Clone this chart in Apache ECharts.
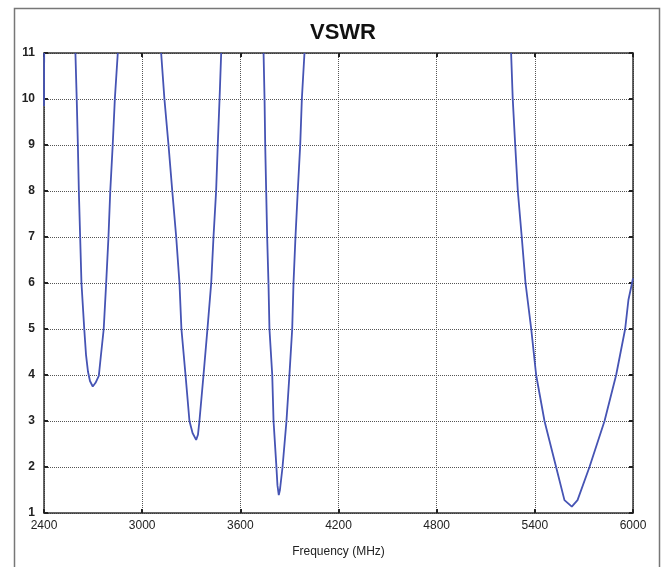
<!DOCTYPE html>
<html>
<head>
<meta charset="utf-8">
<script src="https://cdn.jsdelivr.net/npm/echarts@6/dist/echarts.min.js"></script>
<style>
html,body{margin:0;padding:0;background:#fff;}
#chart{width:661px;height:567px;}
</style>
</head>
<body>
<div id="chart"></div>
<script>
// Frequency (MHz) tick labels and VSWR tick labels
var xTicks = [2400, 3000, 3600, 4200, 4800, 5400, 6000];
var yTicks = [1, 2, 3, 4, 5, 6, 7, 8, 9, 10, 11];

// Curve segments (frequency MHz, VSWR)
var edgeFreq = [2400, 2401];
var edgeVswr = [9.85, 11];

var dip1Freq = [2592, 2600, 2607, 2613, 2621, 2629, 2646, 2657, 2669, 2681, 2698, 2715, 2735, 2748, 2765, 2780, 2794, 2805, 2820, 2833, 2851];
var dip1Vswr = [11, 10, 9, 8, 7, 6, 5, 4.43, 4.07, 3.87, 3.75, 3.83, 3.98, 4.43, 5, 6, 7, 8, 9, 10, 11];

var dip2Freq = [3116, 3136, 3161, 3184, 3208, 3228, 3240, 3265, 3289, 3308, 3330, 3341, 3350, 3375, 3399, 3422, 3436, 3452, 3462, 3473, 3483];
var dip2Vswr = [11, 10, 9, 8, 7, 6, 5, 4, 3, 2.74, 2.59, 2.7, 3, 4, 5, 6, 7, 8, 9, 10, 11];

var dip3Freq = [3742, 3748, 3752, 3758, 3764, 3772, 3778, 3795, 3803, 3819, 3827, 3835, 3842, 3858, 3882, 3900, 3917, 3925, 3937, 3951, 3966, 3976, 3992];
var dip3Vswr = [11, 10, 9, 8, 7, 6, 5, 4, 3, 2.09, 1.6, 1.39, 1.5, 2, 3, 4, 5, 6, 7, 8, 9, 10, 11];

var dip4Freq = [5255, 5265, 5280, 5296, 5320, 5343, 5378, 5408, 5459, 5530, 5581, 5626, 5661, 5734, 5826, 5897, 5952, 5972, 6000];
var dip4Vswr = [11, 10, 9, 8, 7, 6, 5, 4, 3, 2, 1.28, 1.14, 1.28, 2, 3, 4, 5, 5.63, 6.1];

function pairs(f, v) { return f.map(function (x, i) { return [x, v[i]]; }); }
var segments = [[edgeFreq, edgeVswr], [dip1Freq, dip1Vswr], [dip2Freq, dip2Vswr], [dip3Freq, dip3Vswr], [dip4Freq, dip4Vswr]];

var lineColor = '#4654b4';
var series = segments.map(function (s) {
  return {
    type: 'line', data: pairs(s[0], s[1]), showSymbol: false, symbol: 'none',
    lineStyle: { color: lineColor, width: 1.8 }, clip: true, silent: true, animation: false
  };
});

var font = 'Liberation Sans, Arial, sans-serif';
var axisLineStyle = { show: true, onZero: false, lineStyle: { color: '#333', width: 1.5 } };
var tickStyle = { show: true, inside: true, length: 4, lineStyle: { color: '#222', width: 2 } };
var gridStyle = { show: true, lineStyle: { color: '#555', width: 1, type: [1, 1] } };

var chart = echarts.init(document.getElementById('chart'));
chart.setOption({
  animation: false,
  backgroundColor: '#fff',
  title: {
    text: 'VSWR', left: 338, textAlign: 'center', top: 17,
    textStyle: { fontFamily: font, fontWeight: 'bold', fontSize: 22, color: '#111' }
  },
  graphic: [{
    type: 'rect', left: 12, top: 6, silent: true,
    shape: { width: 645, height: 600 },
    style: { fill: 'none', stroke: '#777', lineWidth: 1.5 }
  }],
  grid: { left: 44, right: 28, top: 53, bottom: 54, containLabel: false },
  xAxis: [{
    type: 'value', position: 'bottom', min: xTicks[0], max: xTicks[xTicks.length - 1], interval: 600,
    axisLine: axisLineStyle, axisTick: tickStyle, splitLine: gridStyle,
    axisLabel: { color: '#222', fontSize: 12, margin: 7, fontFamily: font, formatter: function (v) { return String(v); } },
    name: 'Frequency (MHz)', nameLocation: 'middle', nameGap: 33,
    nameTextStyle: { color: '#222', fontSize: 12, fontFamily: font }
  }, {
    type: 'value', position: 'top', min: xTicks[0], max: xTicks[xTicks.length - 1], interval: 600,
    axisLine: axisLineStyle, axisTick: tickStyle, splitLine: { show: false }, axisLabel: { show: false }
  }],
  yAxis: [{
    type: 'value', position: 'left', min: yTicks[0], max: yTicks[yTicks.length - 1], interval: 1,
    axisLine: axisLineStyle, axisTick: tickStyle, splitLine: gridStyle,
    axisLabel: { color: '#222', fontSize: 12, fontWeight: 'bold', margin: 9, fontFamily: font, formatter: function (v) { return String(v); } }
  }, {
    type: 'value', position: 'right', min: yTicks[0], max: yTicks[yTicks.length - 1], interval: 1,
    axisLine: axisLineStyle, axisTick: tickStyle, splitLine: { show: false }, axisLabel: { show: false }
  }],
  series: series
});
</script>
</body>
</html>
